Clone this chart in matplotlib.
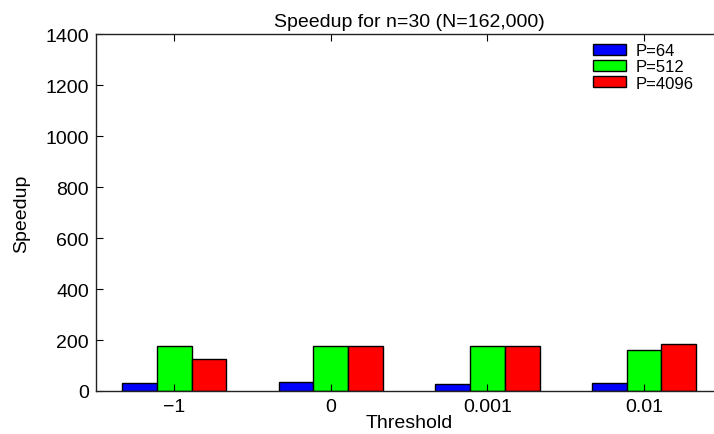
import numpy as np
import matplotlib
matplotlib.use("Agg")
import matplotlib.pyplot as plt

# speedup per threshold setting, one series per processor count
thresholds = ["\u22121", "0", "0.001", "0.01"]
series_names = ["P=64", "P=512", "P=4096"]
speedup_p64 = [30, 34, 29, 31]
speedup_p512 = [175, 176, 177, 160]
speedup_p4096 = [124, 175, 177, 184]
bar_colors = ["#0000ff", "#00ff00", "#ff0000"]

plt.rcParams["font.family"] = ["Liberation Sans", "DejaVu Sans"]

fig = plt.figure(figsize=(7.14, 4.35), dpi=100)
ax = fig.add_axes([0.1345, 0.0989, 0.877, 0.8195])

x = np.arange(1, len(thresholds) + 1)
w = 0.222
for i, (vals, name, col) in enumerate(zip([speedup_p64, speedup_p512, speedup_p4096],
                                          series_names, bar_colors)):
    ax.bar(x + (i - 1) * w, vals, width=w, color=col, edgecolor="black",
           linewidth=1.0, label=name)

ax.set_xlim(0.5, 4.5)
ax.set_ylim(0, 1400)
ax.set_xticks(x)
ax.set_xticklabels(thresholds)
ax.set_yticks(np.arange(0, 1401, 200))
ax.tick_params(direction="in", top=True, right=False, length=5, labelsize=14,
               width=0.8, pad=5)
ax.spines["right"].set_visible(False)
for s in ax.spines.values():
    s.set_linewidth(1.0)
    s.set_color("#222222")

ax.set_title("Speedup for n=30 (N=162,000)", fontsize=14, pad=6)
ax.set_xlabel("Threshold", fontsize=14, labelpad=-1)
ax.set_ylabel("Speedup", fontsize=14, labelpad=11)

ax.legend(loc="upper left", bbox_to_anchor=(0.794, 0.976), frameon=False,
          fontsize=12, handlelength=1.95, handleheight=0.62, handletextpad=0.6,
          labelspacing=0.08, borderpad=0.0, borderaxespad=0.0)

fig.savefig("out.png", dpi=100)
